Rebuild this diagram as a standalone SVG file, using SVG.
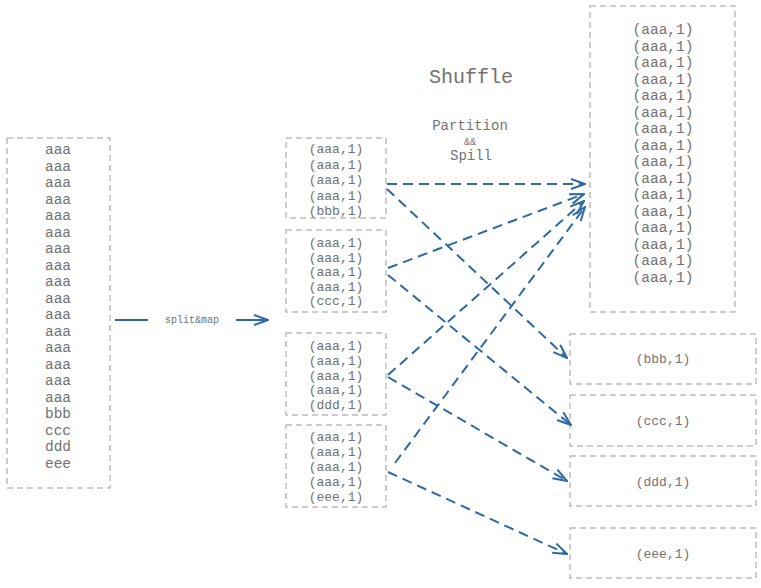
<svg xmlns="http://www.w3.org/2000/svg" width="761" height="588" viewBox="0 0 761 588">
<style>
.box{fill:none;stroke:#bdbdbd;stroke-width:1.5;stroke-dasharray:6,4}
.t{font-family:"Liberation Mono","Courier New",monospace;font-size:13px;fill:#727272;text-anchor:middle}
.big{font-size:14.5px}
.c{fill:none;stroke:#2f69a3;stroke-width:2;stroke-dasharray:10,6}
.s{fill:none;stroke:#2f69a3;stroke-width:2}
</style>
<defs>
<marker id="ah" viewBox="0 0 16 12" refX="15" refY="6" markerWidth="16" markerHeight="12" markerUnits="userSpaceOnUse" orient="auto">
<path d="M1,1 L15,6 L1,11" fill="none" stroke="#2f69a3" stroke-width="2"/>
</marker>
</defs>
<rect width="761" height="588" fill="#fff"/>
<g id="input">
<rect class="box" x="7" y="138" width="103" height="350"/>
<text class="t big"><tspan x="58" y="154">aaa</tspan><tspan x="58" dy="16.5">aaa</tspan><tspan x="58" dy="16.5">aaa</tspan><tspan x="58" dy="16.5">aaa</tspan><tspan x="58" dy="16.5">aaa</tspan><tspan x="58" dy="16.5">aaa</tspan><tspan x="58" dy="16.5">aaa</tspan><tspan x="58" dy="16.5">aaa</tspan><tspan x="58" dy="16.5">aaa</tspan><tspan x="58" dy="16.5">aaa</tspan><tspan x="58" dy="16.5">aaa</tspan><tspan x="58" dy="16.5">aaa</tspan><tspan x="58" dy="16.5">aaa</tspan><tspan x="58" dy="16.5">aaa</tspan><tspan x="58" dy="16.5">aaa</tspan><tspan x="58" dy="16.5">aaa</tspan><tspan x="58" dy="16.5">bbb</tspan><tspan x="58" dy="16.5">ccc</tspan><tspan x="58" dy="16.5">ddd</tspan><tspan x="58" dy="16.5">eee</tspan></text>
</g>
<g id="map1">
<rect class="box" x="286" y="138" width="100" height="80"/>
<text class="t"><tspan x="336" y="153">(aaa,1)</tspan><tspan x="336" dy="15.5">(aaa,1)</tspan><tspan x="336" dy="15.5">(aaa,1)</tspan><tspan x="336" dy="15.5">(aaa,1)</tspan><tspan x="336" dy="15.5">(bbb,1)</tspan></text>
</g>
<g id="map2">
<rect class="box" x="286" y="230" width="100" height="82"/>
<text class="t"><tspan x="336" y="247">(aaa,1)</tspan><tspan x="336" dy="14.5">(aaa,1)</tspan><tspan x="336" dy="14.5">(aaa,1)</tspan><tspan x="336" dy="14.5">(aaa,1)</tspan><tspan x="336" dy="14.5">(ccc,1)</tspan></text>
</g>
<g id="map3">
<rect class="box" x="286" y="333" width="100" height="82"/>
<text class="t"><tspan x="336" y="350">(aaa,1)</tspan><tspan x="336" dy="14.8">(aaa,1)</tspan><tspan x="336" dy="14.8">(aaa,1)</tspan><tspan x="336" dy="14.8">(aaa,1)</tspan><tspan x="336" dy="14.8">(ddd,1)</tspan></text>
</g>
<g id="map4">
<rect class="box" x="286" y="425" width="100" height="82"/>
<text class="t"><tspan x="336" y="441">(aaa,1)</tspan><tspan x="336" dy="15">(aaa,1)</tspan><tspan x="336" dy="15">(aaa,1)</tspan><tspan x="336" dy="15">(aaa,1)</tspan><tspan x="336" dy="15">(eee,1)</tspan></text>
</g>
<g id="outA">
<rect class="box" x="590" y="6" width="145" height="306"/>
<text class="t big"><tspan x="663" y="34">(aaa,1)</tspan><tspan x="663" dy="16.5">(aaa,1)</tspan><tspan x="663" dy="16.5">(aaa,1)</tspan><tspan x="663" dy="16.5">(aaa,1)</tspan><tspan x="663" dy="16.5">(aaa,1)</tspan><tspan x="663" dy="16.5">(aaa,1)</tspan><tspan x="663" dy="16.5">(aaa,1)</tspan><tspan x="663" dy="16.5">(aaa,1)</tspan><tspan x="663" dy="16.5">(aaa,1)</tspan><tspan x="663" dy="16.5">(aaa,1)</tspan><tspan x="663" dy="16.5">(aaa,1)</tspan><tspan x="663" dy="16.5">(aaa,1)</tspan><tspan x="663" dy="16.5">(aaa,1)</tspan><tspan x="663" dy="16.5">(aaa,1)</tspan><tspan x="663" dy="16.5">(aaa,1)</tspan><tspan x="663" dy="16.5">(aaa,1)</tspan></text>
</g>
<g id="outB">
<rect class="box" x="570" y="334" width="186" height="50"/>
<text class="t" x="663" y="363">(bbb,1)</text>
</g>
<g id="outC">
<rect class="box" x="570" y="395" width="186" height="51"/>
<text class="t" x="663" y="425">(ccc,1)</text>
</g>
<g id="outD">
<rect class="box" x="570" y="456" width="186" height="50"/>
<text class="t" x="663" y="486">(ddd,1)</text>
</g>
<g id="outE">
<rect class="box" x="570" y="528" width="186" height="50"/>
<text class="t" x="663" y="558">(eee,1)</text>
</g>
<g id="labels">
<text class="t" x="471" y="83" style="font-size:20px">Shuffle</text>
<text class="t" x="470" y="130" style="font-size:14px">Partition</text>
<text class="t" x="470" y="145" style="font-size:10px">&amp;&amp;</text>
<text class="t" x="471" y="160" style="font-size:14px">Spill</text>
</g>
<g id="connectors">
<line class="s" x1="115" y1="320" x2="148" y2="320"/>
<line class="s" x1="236" y1="320" x2="268" y2="320" marker-end="url(#ah)"/>
<text class="t" x="192" y="323" style="font-size:10px">split&amp;map</text>
<line class="c" x1="387" y1="184" x2="585" y2="184" marker-end="url(#ah)"/>
<line class="c" x1="387" y1="189" x2="567" y2="358" marker-end="url(#ah)"/>
<line class="c" x1="388" y1="268" x2="584" y2="194" marker-end="url(#ah)"/>
<line class="c" x1="388" y1="275" x2="571" y2="425" marker-end="url(#ah)"/>
<line class="c" x1="388" y1="375" x2="584" y2="201" marker-end="url(#ah)"/>
<line class="c" x1="388" y1="377" x2="567" y2="481" marker-end="url(#ah)"/>
<line class="c" x1="395" y1="463" x2="585" y2="207" marker-end="url(#ah)"/>
<line class="c" x1="388" y1="472" x2="567" y2="554" marker-end="url(#ah)"/>
</g>
</svg>
